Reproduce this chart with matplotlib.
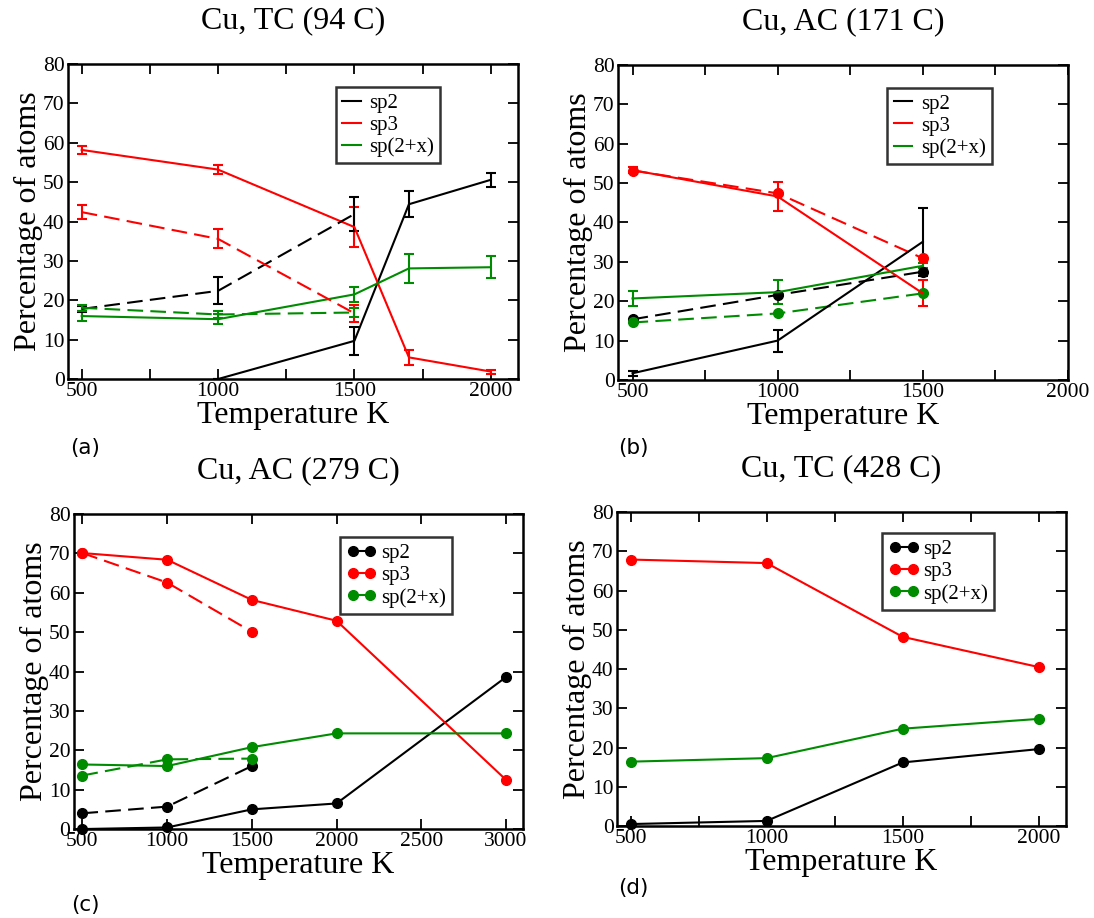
import numpy as np
import matplotlib
matplotlib.use("Agg")
from matplotlib import pyplot as plt
from matplotlib.ticker import MultipleLocator

plt.rcParams['font.family'] = ['Liberation Serif', 'DejaVu Serif']

BLACK = 'black'
RED = '#ff0000'
GREEN = '#008c00'

# (a) Cu, TC (94 C) -- solid and dashed runs, both with error bars
T_a = [500, 1000, 1500, 1700, 2000]
T_a_sp2 = [1000, 1500, 1700, 2000]
sp2_a = [0.0, 9.7, 44.4, 50.6]
sp2_a_err = [0.0, 3.6, 3.3, 1.8]
sp3_a = [58.2, 53.2, 38.6, 5.5, 1.9]
sp3_a_err = [1.0, 1.2, 5.0, 2.0, 0.5]
sp2x_a = [16.0, 15.2, 21.5, 28.1, 28.4]
sp2x_a_err = [1.2, 1.3, 1.9, 3.7, 2.8]

T_a_d = [500, 1000, 1500]
sp2_a_d = [17.8, 22.4, 41.9]
sp2_a_d_err = [0.8, 3.4, 4.4]
sp3_a_d = [42.4, 35.6, 16.7]
sp3_a_d_err = [1.8, 2.4, 2.2]
sp2x_a_d = [18.1, 16.4, 16.9]
sp2x_a_d_err = [0.8, 1.0, 1.2]

# (b) Cu, AC (171 C) -- solid with error bars, dashed with circles
T_b = [500, 1000, 1500]
sp2_b = [1.7, 10.0, 35.1]
sp2_b_err = [0.6, 2.8, 8.6]
sp3_b = [53.3, 46.6, 22.0]
sp3_b_err = [0.8, 3.8, 3.3]
sp2x_b = [20.7, 22.3, 29.0]
sp2x_b_err = [1.8, 3.0, 0.6]
sp2_b_d = [15.4, 21.6, 27.5]
sp3_b_d = [53.2, 47.4, 30.9]
sp2x_b_d = [14.6, 16.9, 22.0]

# (c) Cu, AC (279 C)
T_c = [500, 1000, 1500, 2000, 3000]
sp2_c = [0.0, 0.4, 5.0, 6.5, 38.6]
sp3_c = [70.1, 68.4, 58.2, 52.9, 12.5]
sp2x_c = [16.4, 16.0, 20.8, 24.3, 24.3]
T_c_d = [500, 1000, 1500]
sp2_c_d = [4.0, 5.7, 16.0]
sp3_c_d = [70.1, 62.6, 50.1]
sp2x_c_d = [13.6, 17.7, 17.9]

# (d) Cu, TC (428 C)
T_d = [500, 1000, 1500, 2000]
sp2_d = [0.5, 1.3, 16.2, 19.6]
sp3_d = [67.9, 67.0, 48.2, 40.5]
sp2x_d = [16.4, 17.3, 24.8, 27.3]

labels = ['sp2', 'sp3', 'sp(2+x)']
colors = [BLACK, RED, GREEN]
DASH = (0, (7.5, 3.5))
LW = 1.5
FS_LABEL = 23
FS_TICK = 15.5

fig = plt.figure(figsize=(10.94, 9.18), dpi=100)
ax_a = fig.add_axes([0.0622, 0.5871, 0.4113, 0.3431])
ax_b = fig.add_axes([0.5649, 0.5861, 0.4113, 0.3431])
ax_c = fig.add_axes([0.0676, 0.0969, 0.4104, 0.3431])
ax_d = fig.add_axes([0.5640, 0.1002, 0.4104, 0.3420])


def style(ax, title, xlim, xmajor, xminor):
    ax.set_xlim(*xlim)
    ax.set_ylim(0, 80)
    ax.xaxis.set_major_locator(MultipleLocator(xmajor))
    if xminor:
        ax.xaxis.set_minor_locator(MultipleLocator(xminor))
    ax.yaxis.set_major_locator(MultipleLocator(10))
    ax.tick_params(which='both', direction='in', top=True, right=True,
                   length=7, width=1.3, labelsize=FS_TICK)
    ax.tick_params(axis='x', pad=2)
    ax.tick_params(axis='y', pad=2.5)
    for s in ax.spines.values():
        s.set_linewidth(1.8)
    ax.set_title(title, fontsize=FS_LABEL, pad=26)
    ax.set_xlabel('Temperature K', fontsize=FS_LABEL, labelpad=0)
    ax.set_ylabel('Percentage of atoms', fontsize=FS_LABEL, labelpad=0)


def legend(ax, anchor, markers):
    handles = []
    for lab, c in zip(labels, colors):
        h, = ax.plot([], [], color=c, lw=LW, marker='o' if markers else None,
                     ms=7, label=lab)
        handles.append(h)
    if markers:
        opts = dict(handlelength=1.45, handletextpad=0.2, numpoints=2)
    else:
        opts = dict(handlelength=0.9, handletextpad=0.4, numpoints=1)
    leg = ax.legend(handles=handles, loc='upper right', bbox_to_anchor=anchor,
                    fontsize=15, frameon=True, fancybox=False, edgecolor='black',
                    borderpad=0.3, labelspacing=0.12, borderaxespad=0, **opts)
    leg.get_frame().set_linewidth(1.8)


def errs(ax, x, y, e, c, ls):
    line = ax.errorbar(x, y, yerr=e, color=c, lw=LW, elinewidth=LW, capsize=3.4,
                       capthick=LW)
    line.lines[0].set_linestyle(ls)


# (a)
errs(ax_a, T_a_sp2, sp2_a, sp2_a_err, BLACK, '-')
errs(ax_a, T_a, sp3_a, sp3_a_err, RED, '-')
errs(ax_a, T_a, sp2x_a, sp2x_a_err, GREEN, '-')
errs(ax_a, T_a_d, sp2_a_d, sp2_a_d_err, BLACK, DASH)
errs(ax_a, T_a_d, sp3_a_d, sp3_a_d_err, RED, DASH)
errs(ax_a, T_a_d, sp2x_a_d, sp2x_a_d_err, GREEN, DASH)
style(ax_a, 'Cu, TC (94 C)', (450, 2100), 500, 250)
legend(ax_a, (0.827, 0.927), False)

# (b)
errs(ax_b, T_b, sp2_b, sp2_b_err, BLACK, '-')
errs(ax_b, T_b, sp3_b, sp3_b_err, RED, '-')
errs(ax_b, T_b, sp2x_b, sp2x_b_err, GREEN, '-')
for y, c in zip([sp2_b_d, sp3_b_d, sp2x_b_d], colors):
    ax_b.plot(T_b, y, color=c, lw=LW, ls=DASH, marker='o', ms=7, clip_on=False)
style(ax_b, 'Cu, AC (171 C)', (450, 2000), 500, 250)
legend(ax_b, (0.831, 0.928), False)

# (c)
for y, c in zip([sp2_c, sp3_c, sp2x_c], colors):
    ax_c.plot(T_c, y, color=c, lw=LW, marker='o', ms=7, clip_on=False)
for y, c in zip([sp2_c_d, sp3_c_d, sp2x_c_d], colors):
    ax_c.plot(T_c_d, y, color=c, lw=LW, ls=DASH, marker='o', ms=7, clip_on=False)
style(ax_c, 'Cu, AC (279 C)', (450, 3100), 500, None)
legend(ax_c, (0.842, 0.926), True)

# (d)
for y, c in zip([sp2_d, sp3_d, sp2x_d], colors):
    ax_d.plot(T_d, y, color=c, lw=LW, marker='o', ms=7, clip_on=False)
style(ax_d, 'Cu, TC (428 C)', (450, 2100), 500, 250)
legend(ax_d, (0.840, 0.932), True)

# panel letters
for txt, x, y in [('(a)', 85, 448), ('(b)', 633, 448), ('(c)', 85, 905), ('(d)', 633, 888)]:
    fig.text(x / 1094, 1 - y / 918, txt, family='DejaVu Sans', fontsize=15.5,
             ha='center', va='center')

fig.savefig('out.png', dpi=100)
